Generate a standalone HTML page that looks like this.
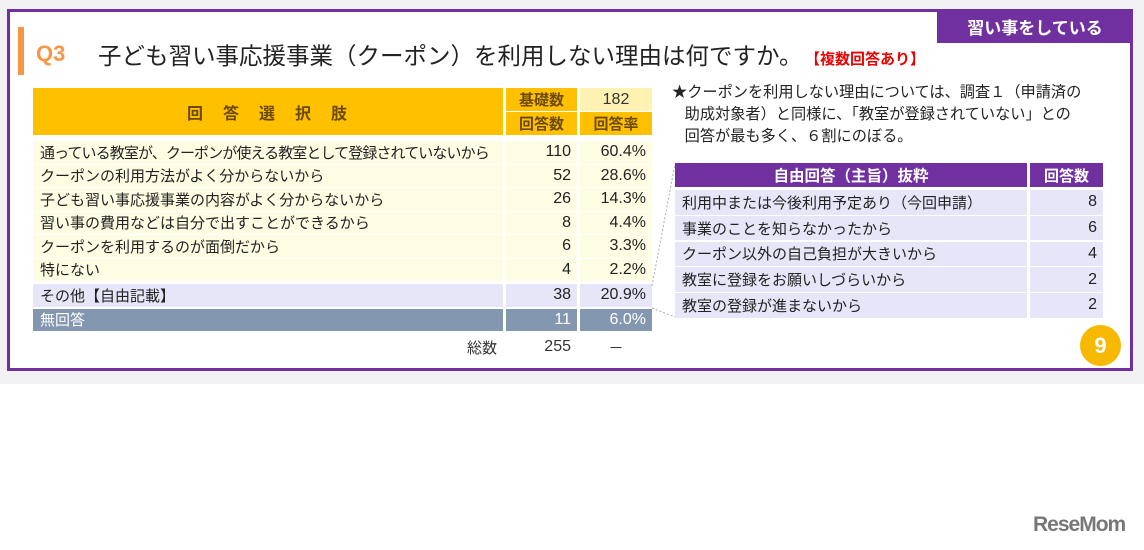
<!DOCTYPE html>
<html><head><meta charset="utf-8">
<style>
*{margin:0;padding:0;box-sizing:border-box}
body{width:1144px;height:550px;background:#fff;position:relative;overflow:hidden;font-family:"Liberation Sans","Noto Sans CJK JP",sans-serif;color:#222}
.a{position:absolute}
.c{position:absolute;display:flex;align-items:center;font-size:15px;white-space:nowrap;overflow:hidden}
.r{justify-content:flex-end;padding-right:6px;font-size:16px}
.l{padding-left:7px}
.m{justify-content:center}
</style></head><body>
<div class="a" style="left:0;top:0;width:1144px;height:384px;background:#f2f2f4"></div>
<div class="a" style="left:7px;top:9px;width:1126px;height:362px;background:#fff;border:3px solid #7030a0"></div>
<div class="a" style="left:937px;top:9px;width:196px;height:34px;background:#7030a0;color:#fff;font-weight:bold;font-size:17px;display:flex;align-items:center;justify-content:center">習い事をしている</div>
<div class="a" style="left:18px;top:27px;width:6px;height:48px;background:#f79646"></div>
<div class="a" style="left:36px;top:41px;font-size:22px;font-weight:bold;color:#f79646">Q3</div>
<div class="a" style="left:98px;top:37px;font-size:23.5px;color:#222;white-space:nowrap">子ども習い事応援事業（クーポン）を利用しない理由は何ですか。<span style="color:#e00;font-size:15px;font-weight:bold;margin-left:10px">【複数回答あり】</span></div>

<div id="lt"></div>
<div id="rt"></div>

<div class="a" style="left:672px;top:82px;font-size:15.2px;line-height:22px;color:#222;white-space:nowrap">★クーポンを利用しない理由については、調査１（申請済の<br>&nbsp;&nbsp;&nbsp;助成対象者）と同様に、「教室が登録されていない」との<br>&nbsp;&nbsp;&nbsp;回答が最も多く、６割にのぼる。</div>

<svg class="a" style="left:0;top:0" width="1144" height="550">
<line x1="652" y1="286" x2="675" y2="164" stroke="#aaa" stroke-dasharray="2,2"/>
<line x1="652" y1="308" x2="675" y2="317" stroke="#aaa" stroke-dasharray="2,2"/>
</svg>

<div class="a" style="left:1080px;top:325px;width:41px;height:41px;border-radius:50%;background:#f7b900;color:#fff;font-weight:bold;font-size:22px;display:flex;align-items:center;justify-content:center">9</div>
<div class="a" style="left:1033px;top:513px;font-size:21px;font-weight:bold;color:#777;letter-spacing:-1px">ReseMom</div>

<script>
const choices=["通っている教室が、クーポンが使える教室として登録されていないから","クーポンの利用方法がよく分からないから","子ども習い事応援事業の内容がよく分からないから","習い事の費用などは自分で出すことができるから","クーポンを利用するのが面倒だから","特にない","その他【自由記載】","無回答"];
const counts=[110,52,26,8,6,4,38,11];
const rates=["60.4%","28.6%","14.3%","4.4%","3.3%","2.2%","20.9%","6.0%"];
const freeAnswers=["利用中または今後利用予定あり（今回申請）","事業のことを知らなかったから","クーポン以外の自己負担が大きいから","教室に登録をお願いしづらいから","教室の登録が進まないから"];
const freeCounts=[8,6,4,2,2];

function cell(parent,name,x,y,w,h,txt,cls,style){
  const d=document.createElement('div');
  d.className='c '+cls;
  
  
  d.style.cssText=`left:${x}px;top:${y}px;width:${w}px;height:${h}px;`+(style||'');
  d.textContent=txt;parent.appendChild(d);return d;
}
const lt=document.getElementById('lt');
const H='background:#ffc000;color:#6b4a00;font-weight:bold;';
cell(lt,'header-choices',33,88,470,47,'回　答　選　択　肢','m',H+'font-size:16px;letter-spacing:2px');
cell(lt,'header-base-label',506,88,71,23,'基礎数','m',H);
cell(lt,'header-base-value',580,88,72,23,'182','m','background:#fff2b3;color:#333;font-size:16px');
cell(lt,'header-count',506,112,71,23,'回答数','m',H);
cell(lt,'header-rate',580,112,72,23,'回答率','m',H);
const y0=141,rh=23.5;
choices.forEach((t,i)=>{
  const y=y0+i*rh+(i>=6?2:0)+(i>=7?1:0);
  let bg='#fefde3',col='#222';
  if(i==6)bg='#e6e6f8';
  if(i==7){bg='#8497b0';col='#fff';}
  const st=`background:${bg};color:${col};`;
  cell(lt,'choice-label',33,y,470,rh-1,t,'l',st+(i==0?'letter-spacing:-0.9px;':''));
  cell(lt,'choice-count',506,y,71,rh-1,String(counts[i]),'r',st);
  cell(lt,'choice-rate',580,y,72,rh-1,rates[i],'r',st);
});
cell(lt,'total-label',440,336,63,22,'総数','r','color:#333;font-size:15px');
cell(lt,'total-count',506,336,71,22,String(255),'r','color:#333');
cell(lt,'total-rate',580,336,72,22,'－','m','color:#333');

const rt=document.getElementById('rt');
const P='background:#7030a0;color:#fff;font-weight:bold;';
cell(rt,'free-header-label',675,163,352,24,'自由回答（主旨）抜粋','m',P+'font-size:15.5px');
cell(rt,'free-header-count',1030,163,73,24,'回答数','m',P);
freeAnswers.forEach((t,i)=>{
  const y=190+i*25.8;
  const st='background:#e6e6f8;color:#222;';
  cell(rt,'free-answer-label',675,y,352,24.5,t,'l',st);
  cell(rt,'free-answer-count',1030,y,73,24.5,String(freeCounts[i]),'r',st);
});
</script>
</body></html>
